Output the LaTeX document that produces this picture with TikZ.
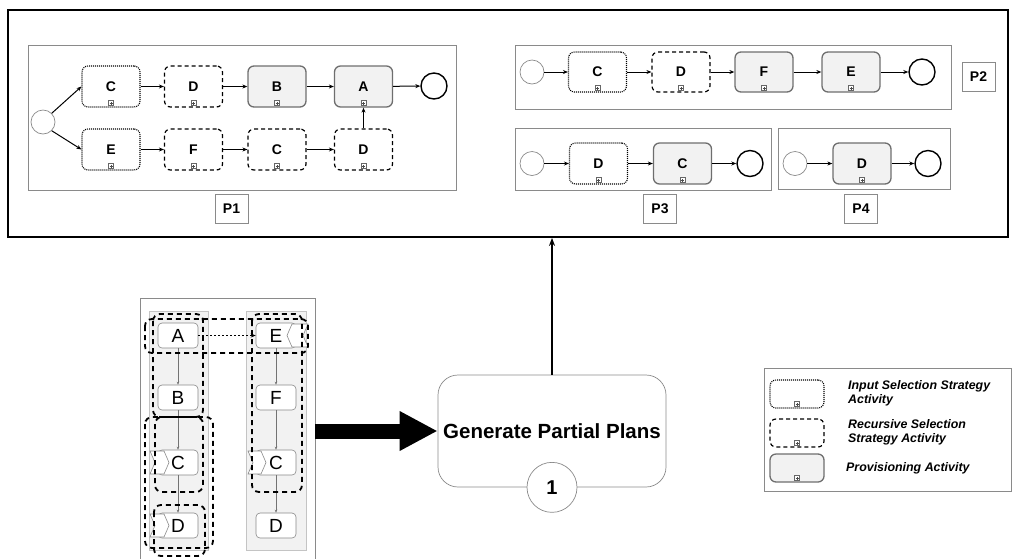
\documentclass[tikz,border=0pt]{standalone}
\usepackage{fontspec}
\setmainfont{Liberation Sans}
\usetikzlibrary{arrows.meta,calc}
\definecolor{provfill}{HTML}{F2F2F2}
\definecolor{provline}{HTML}{6E6E6E}
\definecolor{boxline}{HTML}{8A8A8A}
\definecolor{lanefill}{HTML}{F2F2F2}
\definecolor{laneline}{HTML}{C4C4C4}
\tikzset{
  plusmark/.style={path picture={
    \draw[solid, sharp corners, line width=0.4pt, draw=black!60, fill=white]
      ([shift={(-2.5pt,1.5pt)}]path picture bounding box.south) rectangle ++(5pt,5pt);
    \draw[solid, sharp corners, line width=0.4pt, draw=black!70]
      ([shift={(-1.5pt,4pt)}]path picture bounding box.south) -- ++(3pt,0pt)
      ([shift={(0pt,2.5pt)}]path picture bounding box.south) -- ++(0pt,3pt);
  }},
  act/.style={rounded corners=6pt, minimum width=58pt, minimum height=41pt, inner sep=0pt,
    font=\bfseries\fontsize{14pt}{16pt}\selectfont, plusmark},
  inact/.style={act, draw, dash pattern=on 1pt off 1pt, line width=1.1pt},
  recact/.style={act, draw, dash pattern=on 4pt off 3pt, line width=1.2pt},
  provact/.style={act, draw=provline, fill=provfill, line width=1.3pt},
  startev/.style={circle, draw=boxline, line width=0.7pt, minimum size=24pt, inner sep=0pt},
  endev/.style={circle, draw, line width=1.4pt, minimum size=26pt, inner sep=0pt},
  flow/.style={-{Stealth[length=5pt,width=4pt]}, line width=1pt},
  container/.style={draw=boxline, line width=0.7pt, inner sep=0pt},
  plabel/.style={draw=boxline, line width=0.7pt, minimum width=33pt, minimum height=29pt, inner sep=0pt,
    font=\bfseries\fontsize{14pt}{16pt}\selectfont},
  lane/.style={draw=laneline, fill=lanefill, line width=0.6pt, inner sep=0pt},
  task/.style={draw=boxline, fill=white, rounded corners=4pt, line width=0.6pt, minimum width=40pt,
    minimum height=25pt, inner sep=0pt, font=\fontsize{19pt}{21pt}\selectfont},
  thinflow/.style={draw=black!55, line width=0.5pt, -{Stealth[length=3pt,width=2.5pt]}},
  grp/.style={draw, line width=1.8pt, dash pattern=on 5pt off 4pt, rounded corners=7pt},
  chev/.style={draw=boxline, fill=white, line width=0.6pt},
  legtext/.style={anchor=west, align=left, inner sep=0pt,
    font=\bfseries\itshape\fontsize{12.4pt}{14pt}\selectfont},
}
\begin{document}
\begin{tikzpicture}[x=1pt,y=-1pt]
\useasboundingbox (0,0) rectangle (1016,558);
\clip (0,0) rectangle (1016,558);

% outer result box
\node[draw, line width=1.8pt, minimum width=1000pt, minimum height=227pt, inner sep=0pt] (outer) at (508,123.5) {};

% ---------- P1 ----------
\node[container, minimum width=428pt, minimum height=145pt] (p1box) at (242,117.5) {};
\node[startev] (s1) at (43,122) {};
\node[endev] (en1) at (434,86) {};
\node[inact] (c1) at (111,86.5) {C};
\node[recact] (d1) at (193.5,86.5) {D};
\node[provact] (b1) at (277,86.5) {B};
\node[provact] (a1) at (363.5,86.5) {A};
\node[inact] (e1) at (111,149.5) {E};
\node[recact] (f1) at (193.5,149.5) {F};
\node[recact] (c1b) at (277,149.5) {C};
\node[recact] (d1b) at (363.5,149.5) {D};
\draw[flow] (s1.north east) -- (c1.west);
\draw[flow] (s1.south east) -- (e1.west);
\draw[flow] (c1) -- (d1);
\draw[flow] (d1) -- (b1);
\draw[flow] (b1) -- (a1);
\draw[flow] (a1) -- (en1);
\draw[flow] (e1) -- (f1);
\draw[flow] (f1) -- (c1b);
\draw[flow] (c1b) -- (d1b);
\draw[flow] (d1b) -- (a1);
\node[plabel] (l1) at (231.5,208.5) {P1};

% ---------- P2 ----------
\node[container, minimum width=436pt, minimum height=64pt] (p2box) at (733,77) {};
\node[startev] (s2) at (532,72) {};
\node[inact, minimum height=40pt] (c2) at (597.5,72) {C};
\node[recact, minimum height=40pt] (d2) at (681,72) {D};
\node[provact, minimum height=40pt] (f2) at (764,72) {F};
\node[provact, minimum height=40pt] (e2) at (851,72) {E};
\node[endev] (en2) at (922,72) {};
\draw[flow] (s2) -- (c2);
\draw[flow] (c2) -- (d2);
\draw[flow] (d2) -- (f2);
\draw[flow] (f2) -- (e2);
\draw[flow] (e2) -- (en2);
\node[plabel] (l2) at (978.5,77) {P2};

% ---------- P3 ----------
\node[container, minimum width=256pt, minimum height=62pt] (p3box) at (643,159) {};
\node[startev] (s3) at (532,163.5) {};
\node[inact] (d3) at (598.5,163.5) {D};
\node[provact] (c3) at (682.5,163.5) {C};
\node[endev] (en3) at (750,163.5) {};
\draw[flow] (s3) -- (d3);
\draw[flow] (d3) -- (c3);
\draw[flow] (c3) -- (en3);
\node[plabel] (l3) at (660,208.5) {P3};

% ---------- P4 ----------
\node[container, minimum width=172pt, minimum height=61pt] (p4box) at (864,158.5) {};
\node[startev] (s4) at (795,163.5) {};
\node[provact] (d4) at (862,163.5) {D};
\node[endev] (en4) at (928,163.5) {};
\draw[flow] (s4) -- (d4);
\draw[flow] (d4) -- (en4);
\node[plabel] (l4) at (861,208.5) {P4};

% ---------- Generate Partial Plans ----------
\node[draw=boxline, line width=0.7pt, rounded corners=20pt, minimum width=228pt, minimum height=112pt,
  inner sep=0pt, font=\bfseries\fontsize{20.5pt}{22pt}\selectfont] (gen) at (552,431) {Generate Partial Plans};
\node[circle, draw=boxline, fill=white, line width=0.7pt, minimum size=50pt, inner sep=0pt,
  font=\bfseries\fontsize{20pt}{22pt}\selectfont] (loop) at (gen.south) {1};
\draw[-{Stealth[length=8pt,width=6pt]}, line width=1.3pt] (gen.north) -- (gen.north |- outer.south);

% ---------- left process model ----------
\node[container, minimum width=175pt, minimum height=280pt] (lbox) at (227.5,438) {};
\node[lane, minimum width=59pt, minimum height=239pt] (lane1) at (178.5,430.5) {};
\node[lane, minimum width=60pt, minimum height=239pt] (lane2) at (276,430.5) {};

\node[task] (ta) at (178,335.5) {A};
\node[task] (tb) at (178,397.5) {B};
\node[task] (tc) at (178,462.5) {C};
\node[task] (td) at (178,525.5) {D};
\node[task] (te) at (276,335.5) {E};
\node[task] (tf) at (276,397.5) {F};
\node[task] (tc2) at (276,462.5) {C};
\node[task] (td2) at (276,525.5) {D};

\draw[thinflow] (ta) -- (tb);
\draw[thinflow] (tb) -- (tc);
\draw[thinflow] (tc) -- (td);
\draw[thinflow] (te) -- (tf);
\draw[thinflow] (tf) -- (tc2);
\draw[thinflow] (tc2) -- (td2);
\draw[draw=black, line width=0.8pt, dash pattern=on 2pt off 2pt, -{Stealth[length=5pt,width=4pt]}] (ta) -- (te);

% chevron markers
\draw[chev] (150,451) -- (164,451) -- (169,462.5) -- (164,474) -- (150,474) -- (155,462.5) -- cycle;
\draw[chev] (150,514) -- (164,514) -- (169,525.5) -- (164,537) -- (150,537) -- (155,525.5) -- cycle;
\draw[chev] (248,451) -- (261,451) -- (266,462.5) -- (261,474) -- (248,474) -- (253,462.5) -- cycle;
\draw[chev] (292,324) -- (308,324) -- (303,335.5) -- (308,347) -- (292,347) -- (287,335.5) -- cycle;

% dashed groups
\draw[grp] (145,319) rectangle (308,353);
\draw[grp] (153,314) rectangle (203,417);
\draw[grp] (155,417) rectangle (203,492);
\draw[grp] (145,417) rectangle (213,548);
\draw[grp] (154,505) rectangle (205,556);
\draw[grp] (252,314) rectangle (302,492);

% big arrow
\draw[line width=15pt, -{Triangle[length=38pt,width=37pt]}] (lbox.east |- gen.west) -- (gen.west);

% ---------- legend ----------
\node[container, minimum width=247pt, minimum height=123pt] (leg) at (887.5,429.5) {};
\node[inact, minimum width=54pt, minimum height=28pt] (lg1) at (797,394) {};
\node[recact, minimum width=54pt, minimum height=28pt] (lg2) at (797,433) {};
\node[provact, minimum width=54pt, minimum height=28pt] (lg3) at (797,468) {};
\node[legtext] (lt1) at (848,393) {Input Selection Strategy\\Activity};
\node[legtext] (lt2) at (848,432) {Recursive Selection\\Strategy Activity};
\node[legtext] (lt3) at (846,468) {Provisioning Activity};
\end{tikzpicture}
\end{document}
